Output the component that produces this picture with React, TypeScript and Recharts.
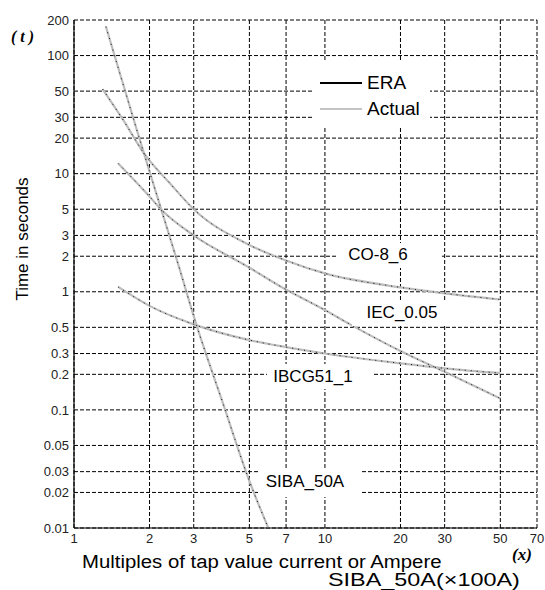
import React from "react";
import { LineChart, Line, XAxis, YAxis, CartesianGrid } from "recharts";

const xTicks = [1, 2, 3, 5, 7, 10, 20, 30, 50, 70];
const yTicks = [0.01, 0.02, 0.03, 0.05, 0.1, 0.2, 0.3, 0.5, 1, 2, 3, 5, 10, 20, 30, 50, 100, 200];

const coX = [1.3, 1.57, 1.92, 2.41, 3, 5, 7, 10, 20, 30, 50];
const coActual = [52, 28.5, 14.4, 8.3, 5, 2.49, 1.84, 1.43, 1.09, 0.97, 0.86];
const coEra = [52, 28.5, 14.4, 8.3, 5, 2.49, 1.84, 1.43, 1.09, 0.97, 0.86];

const iecX = [1.5, 1.95, 2.24, 3, 5, 6.6, 10, 12.6, 20, 30, 50];
const iecActual = [12.2, 6.8, 4.9, 3.0, 1.6, 1.12, 0.7, 0.53, 0.315, 0.21, 0.125];
const iecEra = [12.2, 6.8, 4.9, 3.0, 1.6, 1.12, 0.7, 0.53, 0.315, 0.21, 0.125];

const ibcgX = [1.5, 2, 3, 5, 7, 10, 20, 30, 50];
const ibcgActual = [1.1, 0.76, 0.53, 0.39, 0.34, 0.3, 0.248, 0.225, 0.205];
const ibcgEra = [1.1, 0.76, 0.53, 0.39, 0.34, 0.3, 0.248, 0.225, 0.205];

const sibaX = [1.34, 1.78, 2.23, 2.57, 3.08, 3.9, 5.0, 5.95];
const sibaActual = [176, 23.4, 4.93, 1.86, 0.52, 0.118, 0.025, 0.01];
const sibaEra = [176, 23.4, 4.93, 1.86, 0.52, 0.118, 0.025, 0.01];

const toPts = (xs: number[], ys: number[]) => xs.map((x, i) => ({ x, t: ys[i] }));

const actualSeries = [
  { name: "CO-8_6", data: toPts(coX, coActual) },
  { name: "IEC_0.05", data: toPts(iecX, iecActual) },
  { name: "IBCG51_1", data: toPts(ibcgX, ibcgActual) },
  { name: "SIBA_50A", data: toPts(sibaX, sibaActual) },
];
const eraSeries = [
  { name: "CO-8_6 era", data: toPts(coX, coEra) },
  { name: "IEC_0.05 era", data: toPts(iecX, iecEra) },
  { name: "IBCG51_1 era", data: toPts(ibcgX, ibcgEra) },
  { name: "SIBA_50A era", data: toPts(sibaX, sibaEra) },
];

const SANS = '"Liberation Sans", Arial, sans-serif';
const SERIF = '"Liberation Serif", "Times New Roman", serif';

const abs = (s: React.CSSProperties): React.CSSProperties => ({ position: "absolute", ...s });

const Label = ({ text, box, cx, cy }: { text: string; box: [number, number, number, number]; cx: number; cy: number }) => (
  <>
    <div style={abs({ left: box[0], top: box[1], width: box[2] - box[0], height: box[3] - box[1], background: "#fff" })} />
    <div
      style={abs({
        left: cx - 100,
        width: 200,
        top: cy - 11,
        height: 22,
        lineHeight: "22px",
        textAlign: "center",
        fontFamily: SANS,
        fontSize: 17,
        color: "#000",
        whiteSpace: "nowrap",
      })}
    >
      {text}
    </div>
  </>
);

export default function App() {
  return (
    <div style={{ position: "absolute", left: 0, top: 0, width: 545, height: 590, background: "#fff", overflow: "hidden" }}>
      <LineChart width={545} height={590} margin={{ top: 20, right: 8, bottom: 32, left: 14 }}>
        <CartesianGrid stroke="#000" strokeDasharray="4 2" strokeWidth={1} />
        <XAxis
          dataKey="x"
          type="number"
          scale="log"
          domain={[1, 70]}
          ticks={xTicks}
          interval={0}
          allowDataOverflow
          height={30}
          tickSize={0}
          tickMargin={6}
          axisLine={{ stroke: "#000", strokeWidth: 1.2 }}
          tick={{ fontFamily: SANS, fontSize: 13, fill: "#222" }}
        />
        <XAxis
          xAxisId="top"
          orientation="top"
          dataKey="x"
          type="number"
          scale="log"
          domain={[1, 70]}
          ticks={xTicks}
          interval={0}
          allowDataOverflow
          height={0}
          tick={false}
          tickLine={false}
          axisLine={{ stroke: "#000", strokeWidth: 1.2 }}
        />
        <YAxis
          dataKey="t"
          type="number"
          scale="log"
          domain={[0.01, 200]}
          ticks={yTicks}
          interval={0}
          allowDataOverflow
          width={60}
          tickSize={0}
          tickMargin={5}
          axisLine={{ stroke: "#000", strokeWidth: 1.2 }}
          tick={{ fontFamily: SANS, fontSize: 13, fill: "#222" }}
        />
        <YAxis
          yAxisId="right"
          orientation="right"
          dataKey="t"
          type="number"
          scale="log"
          domain={[0.01, 200]}
          ticks={yTicks}
          interval={0}
          allowDataOverflow
          width={0}
          tick={false}
          tickLine={false}
          axisLine={{ stroke: "#000", strokeWidth: 1.2 }}
        />
        {actualSeries.map((s) => (
          <Line
            key={s.name}
            data={s.data}
            dataKey="t"
            type="monotone"
            stroke="#bdbdbd"
            strokeWidth={2.2}
            dot={false}
            isAnimationActive={false}
          />
        ))}
        {eraSeries.map((s) => (
          <Line
            key={s.name}
            data={s.data}
            dataKey="t"
            type="monotone"
            stroke="#111"
            strokeWidth={1}
            strokeDasharray="1 5"
            dot={false}
            isAnimationActive={false}
          />
        ))}
      </LineChart>

      {/* legend */}
      <div style={abs({ left: 313, top: 62, width: 117, height: 65, background: "#fff" })} />
      <div style={abs({ left: 320, top: 82, width: 42, height: 2, background: "#000" })} />
      <div style={abs({ left: 367, top: 72, height: 22, lineHeight: "22px", fontFamily: SANS, fontSize: 19 })}>ERA</div>
      <div style={abs({ left: 320, top: 108, width: 42, height: 2, background: "#c4c4c4" })} />
      <div style={abs({ left: 367, top: 98, height: 22, lineHeight: "22px", fontFamily: SANS, fontSize: 19 })}>Actual</div>

      {/* curve labels */}
      <Label text="CO-8_6" box={[336, 243, 442, 268]} cx={378} cy={255} />
      <Label text="IEC_0.05" box={[352, 301, 452, 326]} cx={402} cy={313} />
      <Label text="IBCG51_1" box={[267, 364, 372, 389]} cx={313} cy={377} />
      <Label text="SIBA_50A" box={[258, 468, 360, 497]} cx={305} cy={482} />

      {/* axis titles */}
      <div style={abs({ left: 11, top: 28, fontFamily: SERIF, fontSize: 16, fontWeight: "bold", fontStyle: "italic", whiteSpace: "pre", lineHeight: "18px" })}>( t )</div>
      <div
        style={abs({
          left: 23 - 80,
          top: 239 - 11,
          width: 160,
          height: 22,
          lineHeight: "22px",
          textAlign: "center",
          fontFamily: SANS,
          fontSize: 17,
          transform: "rotate(-90deg)",
          whiteSpace: "nowrap",
        })}
      >
        Time in seconds
      </div>
      <div
        style={abs({
          left: 82,
          top: 554,
          height: 17,
          lineHeight: "17px",
          fontFamily: SANS,
          fontSize: 18,
          whiteSpace: "nowrap",
          transform: "scaleX(1.13)",
          transformOrigin: "left center",
        })}
      >
        Multiples of tap value current or Ampere
      </div>
      <div
        style={abs({
          left: 328,
          top: 572,
          height: 17,
          lineHeight: "17px",
          fontFamily: SANS,
          fontSize: 18,
          whiteSpace: "nowrap",
          transform: "scaleX(1.3)",
          transformOrigin: "left center",
        })}
      >
        SIBA_50A(×100A)
      </div>
      <div style={abs({ left: 512, top: 546, fontFamily: SERIF, fontSize: 17, fontWeight: "bold", fontStyle: "italic", lineHeight: "18px", whiteSpace: "pre" })}>(x)</div>
    </div>
  );
}
